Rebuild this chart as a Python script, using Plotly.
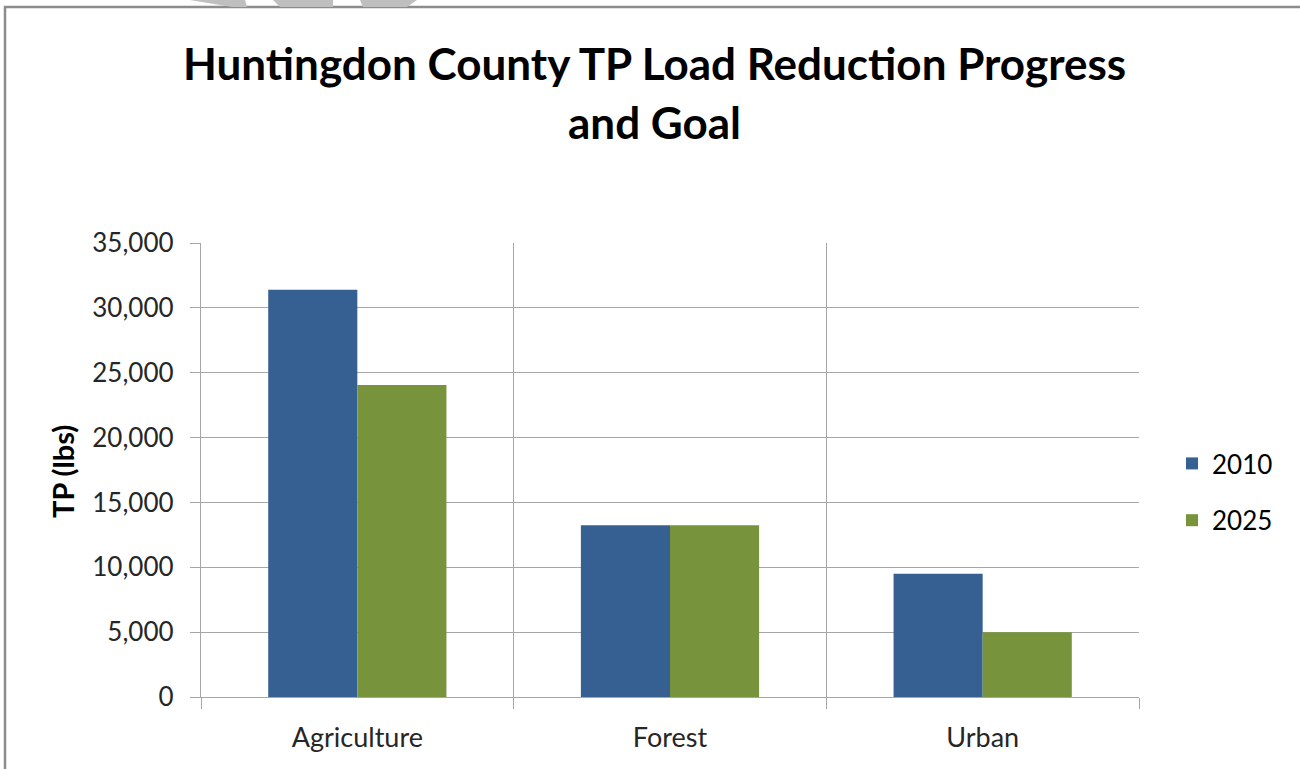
import plotly.graph_objects as go

categories = ["Agriculture", "Forest", "Urban"]
series_names = ["2010", "2025"]
values_2010 = [31400, 13250, 9500]
values_2025 = [24050, 13250, 5000]
y_ticks = [0, 5000, 10000, 15000, 20000, 25000, 30000, 35000]
y_tick_labels = ["0", "5,000", "10,000", "15,000", "20,000", "25,000", "30,000", "35,000"]

colors = ["#366092", "#77933C"]
FONT = "Lato"

W, H = 1300, 769
L, R, T, B = 201, 1139, 243, 697


def px(x, y):
    return (x - L) / (R - L), (B - y) / (B - T)


fig = go.Figure()
for name, vals, col in zip(series_names, [values_2010, values_2025], colors):
    fig.add_trace(go.Bar(
        x=categories, y=vals, name=name, legendgroup=name,
        marker=dict(color=col, line=dict(width=0)),
    ))

shapes = []
# outer frame
x0, y0 = px(5, 7)
x1, y1 = px(1310, 780)
shapes.append(dict(type="rect", xref="paper", yref="paper", x0=x0, y0=y1, x1=x1, y1=y0,
                   line=dict(color="#8c8c8c", width=2.5), fillcolor="rgba(0,0,0,0)", layer="below"))
# small gray artifacts at the top
for poly in [[(190, 0), (245, 0), (247, 7), (232, 7)],
             [(273, 0), (333, 0), (333, 7), (280, 7)],
             [(360, 0), (417, 0), (407, 7), (363, 7)]]:
    pts = [px(a, b) for a, b in poly]
    path = "M " + " L ".join(f"{a},{b}" for a, b in pts) + " Z"
    shapes.append(dict(type="path", xref="paper", yref="paper", path=path,
                       fillcolor="#bfbfbf", line=dict(width=0)))

annotations = []
for text, yy in [("Huntingdon County TP Load Reduction Progress", 63), ("and Goal", 122)]:
    ax, ay = px(654, yy)
    annotations.append(dict(text=f"<b>{text}</b>", xref="paper", yref="paper", x=ax, y=ay,
                            xanchor="center", yanchor="middle", showarrow=False,
                            font=dict(family=FONT, size=44, color="#000000")))
ax, ay = px(62, 472)
annotations.append(dict(text="<b>TP (lbs)</b>", xref="paper", yref="paper", x=ax, y=ay,
                        xanchor="center", yanchor="middle", showarrow=False, textangle=-90,
                        font=dict(family=FONT, size=29, color="#000000")))

lx, ly = px(1172, 492)
fig.update_layout(
    width=W, height=H,
    margin=dict(l=L, r=W - R, t=T, b=H - B, pad=0),
    paper_bgcolor="white", plot_bgcolor="white",
    barmode="group", bargap=0.43, bargroupgap=0,
    font=dict(family=FONT, size=22, color="#262626"),
    showlegend=True,
    legend=dict(x=lx, y=ly, xanchor="left", yanchor="middle", tracegroupgap=20,
                font=dict(family=FONT, size=26, color="#000000"), bgcolor="rgba(0,0,0,0)"),
    shapes=shapes, annotations=annotations,
    xaxis=dict(tickson="boundaries", showgrid=True, gridcolor="#a6a6a6", gridwidth=1.4,
               ticks="outside", ticklen=11, tickcolor="#a6a6a6", tickwidth=1.4,
               showline=True, linecolor="#a6a6a6", linewidth=1.4, mirror=False,
               ticklabelstandoff=16,
               tickfont=dict(family=FONT, size=27, color="#262626"), range=[-0.5, 2.5]),
    yaxis=dict(range=[0, 35000], tickvals=y_ticks, ticktext=y_tick_labels,
               showgrid=True, gridcolor="#a6a6a6", gridwidth=1.4, zeroline=False,
               ticks="outside", ticklen=10, tickcolor="#a6a6a6", tickwidth=1.4,
               showline=True, linecolor="#a6a6a6", linewidth=1.4,
               ticklabelstandoff=11,
               tickfont=dict(family=FONT, size=26, color="#262626")),
)

fig.write_html("out.html", config={"displayModeBar": False},
               post_script="document.body.style.margin='0';document.body.style.overflow='hidden';")
